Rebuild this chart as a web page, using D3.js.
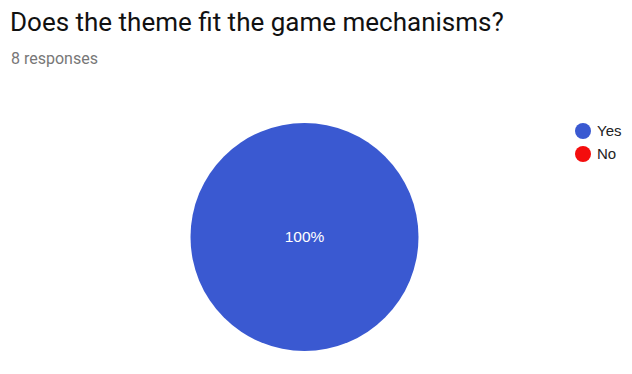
<!DOCTYPE html>
<html>
<head>
<meta charset="utf-8">
<script src="https://cdn.jsdelivr.net/npm/d3@7"></script>
<style>
  body { margin: 0; background: #fff; }
  svg { display: block; font-family: Roboto, Arial, sans-serif; }
</style>
</head>
<body>
<svg id="chart" width="632" height="374"></svg>
<script>
// 資料
const categories = ["Yes", "No"];
const counts = [8, 0];
const colors = ["#3a59d1", "#f40d0d"];
const title = "Does the theme fit the game mechanisms?";
const subtitle = "8 responses";

const svg = d3.select("#chart");

// 標題
svg.append("text")
  .attr("x", 10).attr("y", 31)
  .attr("font-size", 26)
  .attr("fill", "#111")
  .text(title);

svg.append("text")
  .attr("x", 11).attr("y", 64)
  .attr("font-size", 16)
  .attr("fill", "#777")
  .text(subtitle);

// 圓餅圖
const data = categories.map((c, i) => ({ name: c, value: counts[i] }));
const total = d3.sum(counts);
const pie = d3.pie().sort(null).value((d) => d.value);
const radius = 114;
const arc = d3.arc().innerRadius(0).outerRadius(radius);
const color = d3.scaleOrdinal().domain(categories).range(colors);

const g = svg.append("g").attr("transform", "translate(304.5,237)");

const arcs = pie(data).filter((d) => d.value > 0);
g.selectAll("path")
  .data(arcs)
  .enter()
  .append("path")
  .attr("d", arc)
  .attr("fill", (d) => color(d.data.name));

g.selectAll("text.label")
  .data(arcs)
  .enter()
  .append("text")
  .attr("class", "label")
  .attr("transform", (d) => {
    if (d.endAngle - d.startAngle >= 2 * Math.PI - 1e-6) return "translate(0,0)";
    const c = d3.arc().innerRadius(radius * 0.6).outerRadius(radius * 0.6).centroid(d);
    return `translate(${c})`;
  })
  .attr("text-anchor", "middle")
  .attr("dy", "0.35em")
  .attr("font-size", 15.5)
  .attr("font-family", "Arial, 'Liberation Sans', sans-serif")
  .attr("fill", "#fff")
  .text((d) => `${Math.round((d.value / total) * 100)}%`);

// 圖例
const legend = svg.append("g").attr("transform", "translate(583,131)");
const items = legend.selectAll("g")
  .data(categories)
  .enter()
  .append("g")
  .attr("transform", (d, i) => `translate(0,${i * 23})`);

items.append("circle")
  .attr("r", 8)
  .attr("fill", (d) => color(d));

items.append("text")
  .attr("x", 14)
  .attr("dy", "0.35em")
  .attr("font-size", 15)
  .attr("font-family", "Arial, 'Liberation Sans', sans-serif")
  .attr("fill", "#222")
  .text((d) => d);
</script>
</body>
</html>
